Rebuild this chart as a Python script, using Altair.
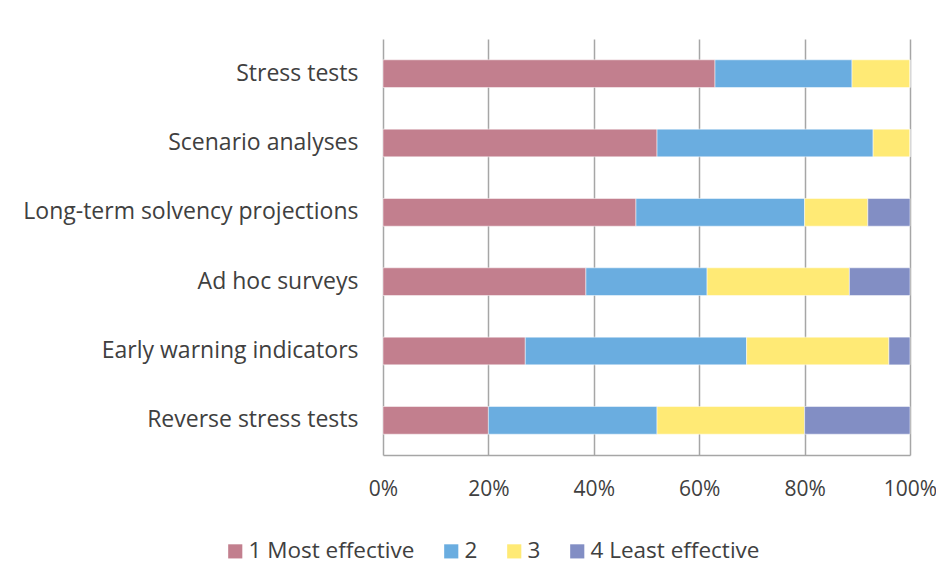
import altair as alt
import pandas as pd

categories = [
    "Stress tests",
    "Scenario analyses",
    "Long-term solvency projections",
    "Ad hoc surveys",
    "Early warning indicators",
    "Reverse stress tests",
]
series = ["1 Most effective", "2", "3", "4 Least effective"]
most_effective = [63, 52, 48, 38.5, 27, 20]
rank_2 = [26, 41, 32, 23, 42, 32]
rank_3 = [11, 7, 12, 27, 27, 28]
least_effective = [0, 0, 8, 11.5, 4, 20]
colors = ["#C27F8E", "#6AADE0", "#FFEA75", "#828EC4"]

rows = []
for i, cat in enumerate(categories):
    for j, (s, vals) in enumerate(zip(series, [most_effective, rank_2, rank_3, least_effective])):
        rows.append({"category": cat, "series": s, "order": j, "value": vals[i]})
df = pd.DataFrame(rows)

FONT = "Open Sans"
FS = 22.5
TXT = "#404040"

bars = alt.Chart(df).mark_bar(stroke="white", strokeWidth=0.5).encode(
    y=alt.Y("category:N", sort=categories, title=None,
            scale=alt.Scale(paddingInner=0.6, paddingOuter=0.3),
            axis=alt.Axis(labelFont=FONT, labelFontSize=23, labelColor=TXT,
                          labelPadding=25, ticks=False, domain=False, grid=False,
                          labelLimit=400)),
    x=alt.X("value:Q", stack="normalize", title=None,
            scale=alt.Scale(domain=[0, 1], nice=False),
            axis=alt.Axis(format=".0%", values=[0, 0.2, 0.4, 0.6, 0.8, 1.0],
                          labelFont=FONT, labelFontSize=21, labelColor=TXT,
                          labelPadding=23, ticks=False, domain=True,
                          domainColor="#A6A6A6", domainWidth=1.5,
                          grid=True, gridColor="#A6A6A6", gridWidth=1.5,
                          labelFlush=False)),
    color=alt.Color("series:N", sort=series, title=None,
                    scale=alt.Scale(domain=series, range=colors),
                    legend=alt.Legend(orient="none", direction="horizontal",
                                      legendX=-159, legendY=501,
                                      symbolType="square", symbolSize=200,
                                      symbolStrokeWidth=0, labelFont=FONT,
                                      labelFontSize=FS, labelColor=TXT,
                                      labelLimit=400,
                                      columnPadding=25, labelOffset=2)),
    order=alt.Order("order:Q"),
)

border = alt.Chart(pd.DataFrame({"k": [0]})).mark_rule(color="#BFBFBF", strokeWidth=1).encode(
    x=alt.value(-376), y=alt.value(-29), y2=alt.value(542)
)

chart = alt.layer(border, bars).properties(
    width=527, height=416,
    autosize=alt.AutoSizeParams(type="none"),
    padding={"left": 375, "top": 31, "right": 26, "bottom": 110},
).configure_view(stroke=None)

chart.save("out.html", embed_options={"renderer": "svg", "actions": False})
